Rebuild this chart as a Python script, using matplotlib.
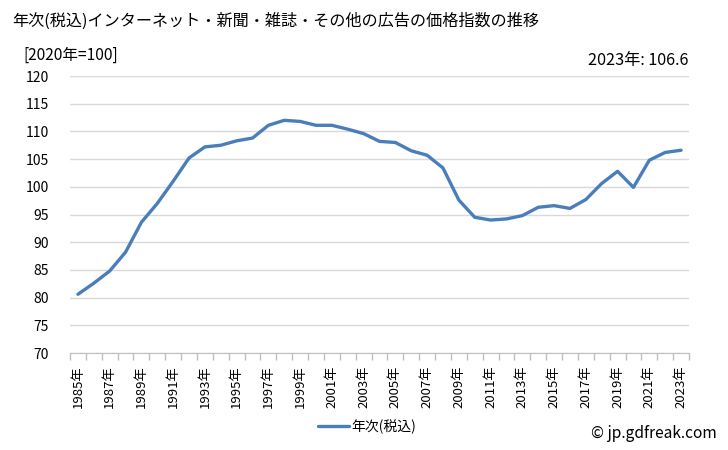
import matplotlib
matplotlib.use("Agg")
import matplotlib.pyplot as plt
import numpy as np

plt.rcParams['font.family'] = ['Noto Sans CJK JP', 'DejaVu Sans']

years = list(range(1985, 2024))
values = [80.6, 82.6, 84.8, 88.2, 93.6, 97.0, 101.0, 105.2, 107.2, 107.5,
          108.3, 108.8, 111.1, 112.0, 111.8, 111.1, 111.1, 110.4, 109.6, 108.2,
          108.0, 106.5, 105.7, 103.4, 97.6, 94.5, 94.0, 94.2, 94.8, 96.3,
          96.6, 96.1, 97.7, 100.6, 102.8, 99.9, 104.8, 106.2, 106.6]
tick_labels = [f"{y}年" for y in years]
yticks = list(range(70, 121, 5))

title = "年次(税込)インターネット・新聞・雑誌・その他の広告の価格指数の推移"
unit = "[2020年=100]"
latest = "2023年: 106.6"
series_name = "年次(税込)"
credit = "© jp.gdfreak.com"

fig = plt.figure(figsize=(7.28, 4.5), dpi=100)
ax = fig.add_axes([70/728, 1-353/450, (689-70)/728, (353-76)/450])

x = np.arange(len(years))
line, = ax.plot(x, values, color='#4a7ebb', linewidth=2.4, label=series_name,
                solid_joinstyle='round', solid_capstyle='round')

ax.set_xlim(-0.5, len(years) - 0.5)
ax.set_ylim(70, 120)
ax.set_yticks(yticks)
ax.set_yticklabels([str(v) for v in yticks], fontsize=10)
ax.grid(axis='y', color='#d9d9d9', linewidth=1)
ax.set_axisbelow(True)

ax.set_xticks(x[::2])
ax.set_xticklabels(tick_labels[::2], rotation=90, fontsize=9.5)
ax.set_xticks(np.arange(-0.5, len(years), 1), minor=True)
ax.tick_params(axis='x', which='major', length=0, pad=9)
ax.tick_params(axis='x', which='minor', length=5, color='#bfbfbf', width=1)
ax.tick_params(axis='y', length=0, pad=15)

for s in ['top', 'right', 'left']:
    ax.spines[s].set_visible(False)
ax.spines['bottom'].set_color('#bfbfbf')

fig.text(12/728, 1-21/450, title, fontsize=11.6, va='center', ha='left')
fig.text(23/728, 1-55/450, unit, fontsize=11.2, va='center', ha='left')
fig.text(689/728, 1-60/450, latest, fontsize=11.7, va='center', ha='right')
fig.text(717/728, 1-434/450, credit, fontsize=11.2, va='center', ha='right')

fig.legend(handles=[line], loc='center', bbox_to_anchor=(367/728, 1-427/450),
           frameon=False, fontsize=10, handlelength=2.2, handletextpad=0.2)

fig.savefig("out.png", dpi=100)
